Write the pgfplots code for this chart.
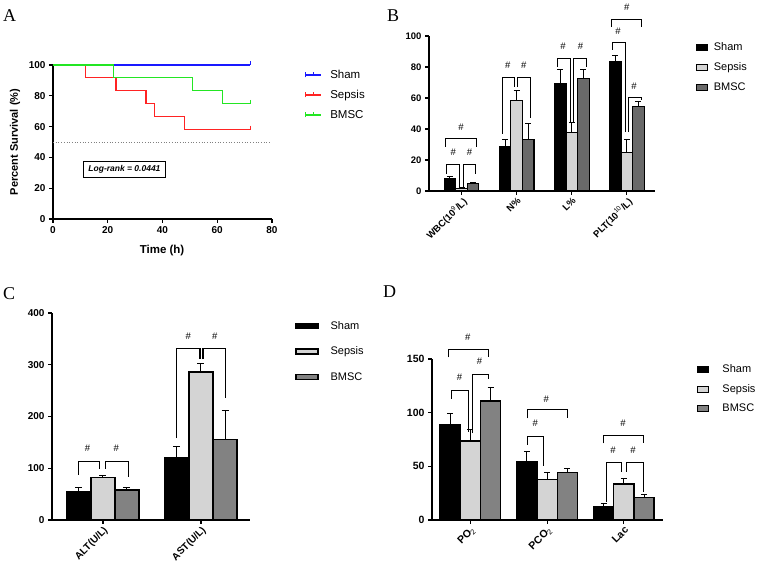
\documentclass[border=0pt]{standalone}
\usepackage{fontspec}
\setmainfont{Liberation Sans}
\setsansfont{Liberation Sans}
\newfontfamily\letterfont{Liberation Serif}
\usepackage{pgfplots}
\usepackage{pgfplotstable}
\pgfplotsset{compat=1.18}

\definecolor{kmblue}{RGB}{25,25,255}
\definecolor{kmred}{RGB}{255,35,35}
\definecolor{kmgreen}{RGB}{35,230,35}
\definecolor{lgray}{RGB}{212,212,212}
\definecolor{dgrayB}{RGB}{105,105,105}
\definecolor{dgray}{RGB}{130,130,130}

% Panel B: blood routine
\pgfplotstableread{
x sham shamE sep sepE bm bmE
0 8.0 1.3 1.5 0.6 4.7 0.8
1 28.9 4.3 58.6 6.4 33.2 10.1
2 69.0 9.4 37.5 6.5 72.8 5.6
3 83.6 4.1 25.0 8.0 54.7 2.8
}\tabB
% Panel C: liver function
\pgfplotstableread{
x sham shamE sep sepE bm bmE
0 54 8 82.6 3.9 58 4
1 121 21 286 16 156 56
}\tabC
% Panel D: blood gas
\pgfplotstableread{
x sham shamE sep sepE bm bmE
0 89 10.4 73.6 10.9 111 12.6
1 54.3 9.1 37.6 7.1 44 4
2 12.4 2.8 33.5 5.3 21 3
}\tabD

\pgfplotsset{
  gpaxis/.style={scale only axis, anchor=south west, axis lines=left,
    axis line style={-, line width=1.1pt}, tick align=outside, major tick length=4pt,
    tick style={line width=1.1pt, black}, clip=false,
    /pgf/number format/assume math mode=true,
    legend style={draw=none, fill=none, inner sep=0pt, outer sep=0pt, anchor=north west,
      cells={anchor=west}, nodes={inner sep=0pt, text height=8pt, text depth=2pt},
      font=\fontsize{11}{11}\selectfont, row sep=10pt}},
  barerr/.style={error bars/.cd, y dir=plus, y explicit,
    error bar style={line width=1pt, black},
    error mark options={rotate=90, mark size=#1, line width=1pt, black}},
}
\newcommand{\brk}[6][1pt]{\draw[line width=#1] (axis cs:#2,#5) -- (axis cs:#2,#4) -- (axis cs:#3,#4) -- (axis cs:#3,#6);}
\newcommand{\hsh}[2]{\node[font=\fontsize{9.5}{9.5}\selectfont, inner sep=0pt] at (axis cs:#1,#2) {\#};}

\begin{document}
\begin{tikzpicture}[x=1pt,y=1pt]
% ---------------- Panel A ----------------
\begin{axis}[gpaxis, at={(53pt,358pt)}, width=219pt, height=154pt,
  xmin=0, xmax=80, ymin=0, ymax=100,
  xtick={0,20,40,60,80}, ytick={0,20,40,60,80,100},
  tick label style={font=\bfseries\fontsize{10}{11}\selectfont},
  xlabel={Time (h)}, ylabel={Percent Survival (\%)},
  xlabel style={at={(axis description cs:0.498,-0.208)}, anchor=center, font=\bfseries\fontsize{11.5}{12}\selectfont},
  ylabel style={at={(axis description cs:-0.1735,0.5)}, anchor=center, font=\bfseries\fontsize{11}{11}\selectfont},
  legend style={at={(1.151,0.971)}, font=\fontsize{11.5}{11.5}\selectfont, nodes={text height=9pt, text depth=2pt}, row sep=9pt,
    /tikz/every odd column/.append style={column sep=9pt}},
  legend image code/.code={\draw[#1] (0pt,0pt) -- (15pt,0pt); \draw[#1] (7.5pt,0pt) -- (7.5pt,2.5pt); \path (0pt,-2.5pt) -- (0pt,2.5pt);},
]
\addplot[kmblue, line width=1.2pt, const plot mark left] coordinates {(0,100) (72,100)};
\addplot[kmred, line width=1.2pt, const plot mark left] coordinates {(0,100) (12,91.67) (23,83.33) (34,75) (37,66.67) (48,58.33) (72,58.33)};
\addplot[kmgreen, line width=1.2pt, const plot mark left] coordinates {(0,100) (22,91.67) (51,83.33) (62,75) (72,75)};
\addplot[forget plot, gray, dotted, line width=0.7pt] coordinates {(0,50) (79,50)};
\addplot[forget plot, only marks, mark=|, mark size=2pt, kmblue, line width=1pt] coordinates {(72,101)};
\addplot[forget plot, only marks, mark=|, mark size=2pt, kmred, line width=1pt] coordinates {(72,59.3)};
\addplot[forget plot, only marks, mark=|, mark size=2pt, kmgreen, line width=1pt] coordinates {(72,76)};
\legend{Sham,Sepsis,BMSC}
\node[draw=black, line width=1pt, font=\bfseries\itshape\fontsize{8.5}{9}\selectfont, inner xsep=5pt, inner ysep=4pt] at (axis cs:26.1,32.1) {Log-rank = 0.0441};
\end{axis}

% ---------------- Panel B ----------------
\begin{axis}[gpaxis, at={(429pt,386pt)}, width=226pt, height=155pt,
  xmin=-0.59, xmax=3.51, ymin=0, ymax=100,
  ybar, bar width=0.21,
  xtick={0,1,2,3}, ytick={0,20,40,60,80,100},
  xticklabels={WBC(10\textsuperscript{\mdseries 9}/L), N\%, L\%, PLT(10\textsuperscript{\mdseries 10}/L)},
  tick label style={font=\bfseries\fontsize{9.5}{10}\selectfont},
  xticklabel style={rotate=45, anchor=north east, inner sep=1pt},
  legend style={at={(1.181,0.955)}, /tikz/every odd column/.append style={column sep=6pt}},
  legend image code/.code={\draw[#1, line width=1pt] (0pt,-3pt) rectangle (11pt,3pt);},
]
\addplot[fill=black, draw=black, line width=1.2pt, bar shift=-0.21, barerr=3pt] table[x=x, y=sham, y error=shamE] {\tabB};
\addplot[fill=lgray, draw=black, line width=1.2pt, bar shift=0, barerr=3pt] table[x=x, y=sep, y error=sepE] {\tabB};
\addplot[fill=dgrayB, draw=black, line width=1.2pt, bar shift=0.21, barerr=3pt] table[x=x, y=bm, y error=bmE] {\tabB};
\legend{Sham,Sepsis,BMSC}
\brk{-0.29}{0.28}{33.8}{28.4}{28.4} \hsh{-0.01}{41.4}
\brk{-0.27}{-0.03}{17.2}{11.2}{1.8} \hsh{-0.15}{25}
\brk{0.03}{0.26}{17.2}{1.8}{11.2} \hsh{0.145}{25}
\brk{0.745}{0.97}{73}{37}{67} \hsh{0.84}{81}
\brk{1.02}{1.25}{73}{67}{47} \hsh{1.13}{81}
\brk{1.74}{1.98}{85.6}{80}{44.6} \hsh{1.84}{93.5}
\brk{2.04}{2.27}{85.6}{44.6}{80} \hsh{2.16}{93.5}
\brk{2.72}{3.27}{110.8}{106}{106} \hsh{3.0}{118.5}
\brk{2.73}{2.98}{95.7}{91}{38} \hsh{2.84}{102.8}
\brk{3.03}{3.26}{60}{38}{58.6} \hsh{3.13}{67.7}
\end{axis}

% ---------------- Panel C ----------------
\begin{axis}[gpaxis, at={(52pt,57pt)}, width=198pt, height=207pt,
  xmin=-0.52, xmax=1.5, ymin=0, ymax=400,
  ybar, bar width=0.245,
  xtick={0,1}, ytick={0,100,200,300,400},
  xticklabels={ALT(U/L), AST(U/L)},
  tick label style={font=\bfseries\fontsize{10}{11}\selectfont},
  xticklabel style={rotate=45, anchor=north east, inner sep=1pt},
  legend style={at={(1.227,0.961)}, row sep=15.5pt, /tikz/every odd column/.append style={column sep=12pt}},
  legend image code/.code={\draw[#1, line width=1.6pt] (0pt,-2.5pt) rectangle (22pt,2.5pt);},
]
\addplot[fill=black, draw=black, line width=1.4pt, bar shift=-0.245, barerr=3.5pt] table[x=x, y=sham, y error=shamE] {\tabC};
\addplot[fill=lgray, draw=black, line width=1.4pt, bar shift=0, barerr=3.5pt] table[x=x, y=sep, y error=sepE] {\tabC};
\addplot[fill=dgray, draw=black, line width=1.4pt, bar shift=0.245, barerr=3.5pt] table[x=x, y=bm, y error=bmE] {\tabC};
\legend{Sham,Sepsis,BMSC}
\brk[1.4pt]{-0.25}{-0.035}{113}{87}{99} \hsh{-0.157}{139}
\brk[1.4pt]{0.023}{0.26}{113}{99}{84} \hsh{0.135}{139}
\brk[1.4pt]{0.75}{0.99}{331}{158}{311} \hsh{0.87}{355}
\brk[1.4pt]{1.02}{1.25}{331}{311}{235} \hsh{1.14}{355}
\end{axis}

% ---------------- Panel D ----------------
\begin{axis}[gpaxis, at={(432pt,57pt)}, width=231pt, height=161pt,
  xmin=-0.5, xmax=2.51, ymin=0, ymax=150,
  ybar, bar width=0.263,
  xtick={0,1,2}, ytick={0,50,100,150},
  xticklabels={PO\textsubscript{\mdseries 2}, PCO\textsubscript{\mdseries 2}, Lac},
  tick label style={font=\bfseries\fontsize{10.5}{11}\selectfont},
  xticklabel style={rotate=45, anchor=north east, inner sep=1pt},
  legend style={at={(1.147,0.963)}, row sep=9.5pt, /tikz/every odd column/.append style={column sep=13.5pt}},
  legend image code/.code={\draw[#1, line width=1pt] (0pt,-3pt) rectangle (11pt,3pt);},
]
\addplot[fill=black, draw=black, line width=1.3pt, bar shift=-0.263, barerr=3pt] table[x=x, y=sham, y error=shamE] {\tabD};
\addplot[fill=lgray, draw=black, line width=1.3pt, bar shift=0, barerr=3pt] table[x=x, y=sep, y error=sepE] {\tabD};
\addplot[fill=dgray, draw=black, line width=1.3pt, bar shift=0.263, barerr=3pt] table[x=x, y=bm, y error=bmE] {\tabD};
\legend{Sham,Sepsis,BMSC}
\brk{-0.28}{0.24}{159}{151.5}{151.5} \hsh{-0.035}{170}
\brk{-0.24}{-0.02}{121}{113}{82} \hsh{-0.14}{133}
\brk{0.03}{0.23}{136}{81}{131} \hsh{0.12}{147.5}
\brk{0.74}{1.26}{102.5}{94.7}{94.7} \hsh{0.99}{112.4}
\brk{0.74}{0.95}{78}{70}{50} \hsh{0.844}{90}
\brk{1.73}{2.25}{79}{71.4}{71.4} \hsh{1.99}{90}
\brk{1.77}{1.97}{54}{17}{45} \hsh{1.86}{65}
\brk{2.04}{2.25}{54}{45}{26} \hsh{2.12}{65}
\end{axis}

% panel letters
\node[anchor=base west, inner sep=0pt, font=\letterfont\fontsize{18}{18}\selectfont] at (3,555) {A};
\node[anchor=base west, inner sep=0pt, font=\letterfont\fontsize{18}{18}\selectfont] at (387,555) {B};
\node[anchor=base west, inner sep=0pt, font=\letterfont\fontsize{18}{18}\selectfont] at (3,277) {C};
\node[anchor=base west, inner sep=0pt, font=\letterfont\fontsize{18}{18}\selectfont] at (383,279) {D};

\pgfresetboundingbox
\path (0,0) rectangle (763,577);
\end{tikzpicture}
\end{document}
